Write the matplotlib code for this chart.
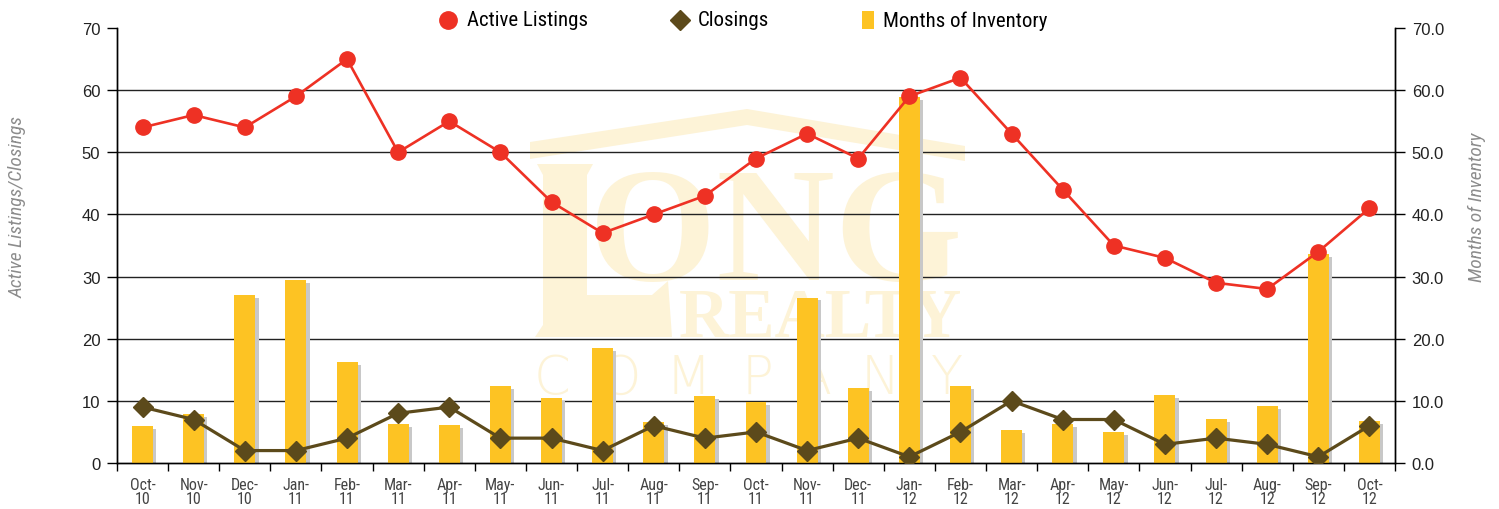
import matplotlib
matplotlib.use("Agg")
import matplotlib.pyplot as plt
from matplotlib import font_manager
from matplotlib.lines import Line2D
from matplotlib.patches import Polygon, Rectangle
import numpy as np

# ---- font: prefer a condensed sans ----
ttf = font_manager.fontManager.ttflist
names = {f.name for f in ttf}
FONT, STRETCH = "DejaVu Sans", "normal"
for cand in ["Liberation Sans Narrow", "Roboto Condensed", "Open Sans Condensed"]:
    if cand in names:
        FONT = cand
        break
else:
    if any(f.name == "DejaVu Sans" and str(f.stretch) in ("condensed", "semi-condensed")
           for f in ttf):
        STRETCH = "condensed"
plt.rcParams['font.family'] = [FONT, 'DejaVu Sans']
plt.rcParams['font.stretch'] = STRETCH
NUMFONT = ["Liberation Sans", "DejaVu Sans"]

# ---- data ----
months = ["Oct-\n10", "Nov-\n10", "Dec-\n10", "Jan-\n11", "Feb-\n11", "Mar-\n11", "Apr-\n11",
          "May-\n11", "Jun-\n11", "Jul-\n11", "Aug-\n11", "Sep-\n11", "Oct-\n11", "Nov-\n11",
          "Dec-\n11", "Jan-\n12", "Feb-\n12", "Mar-\n12", "Apr-\n12", "May-\n12", "Jun-\n12",
          "Jul-\n12", "Aug-\n12", "Sep-\n12", "Oct-\n12"]
active_listings = [54, 56, 54, 59, 65, 50, 55, 50, 42, 37, 40, 43, 49, 53, 49, 59, 62, 53, 44,
                   35, 33, 29, 28, 34, 41]
closings = [9, 7, 2, 2, 4, 8, 9, 4, 4, 2, 6, 4, 5, 2, 4, 1, 5, 10, 7, 7, 3, 4, 3, 1, 6]
months_inventory = [6.0, 7.9, 27.0, 29.4, 16.3, 6.3, 6.1, 12.4, 10.5, 18.5, 6.6, 10.8, 9.8,
                    26.6, 12.1, 58.9, 12.4, 5.3, 6.3, 5.0, 10.9, 7.1, 9.2, 33.6, 6.8]
series_names = ["Active Listings", "Closings", "Months of Inventory"]

RED, BROWN, YELLOW, SHADOW = "#EE3124", "#5C4A1B", "#FDC323", "#C8C8C8"
W, H = 1499, 510
x = np.arange(len(months))

fig = plt.figure(figsize=(W / 100, H / 100), dpi=100)
ax = fig.add_axes([117 / W, 1 - 464 / H, 1278 / W, 435 / H])
ax2 = ax.twinx()
ax2.set_zorder(ax.get_zorder() - 1)
ax.patch.set_visible(False)


def fp(px, py):
    return (px / W, 1 - py / H)


# ---- faint watermark logo ----
wm = "#FDF3D7"
roof = [(530, 143), (747, 110), (965, 147), (965, 162), (747, 126), (530, 160)]
ax2.add_patch(Polygon([fp(*p) for p in roof], closed=True, transform=fig.transFigure,
                      facecolor=wm, edgecolor="none", zorder=0, clip_on=False))
ell = [(537, 165), (593, 165), (587, 176), (587, 296), (652, 296), (668, 282), (672, 338),
       (535, 338), (543, 326), (543, 176)]
ax2.add_patch(Polygon([fp(*p) for p in ell], closed=True, transform=fig.transFigure,
                      facecolor=wm, edgecolor="none", zorder=0, clip_on=False))
ax2.text(*fp(776, 280), "ONG", transform=fig.transFigure, ha="center", va="baseline",
         fontsize=118, color=wm, family="Liberation Serif", fontweight="bold",
         fontstretch="normal", zorder=0)
ax2.text(*fp(820, 337), "REALTY", transform=fig.transFigure, ha="center", va="baseline",
         fontsize=50, color=wm, family="Liberation Serif", fontweight="bold",
         fontstretch="normal", zorder=0)
for letter, px in zip("COMPANY", [552, 620, 688, 757, 813, 880, 947]):
    ax2.text(*fp(px, 394), letter, transform=fig.transFigure, ha="center", va="baseline",
             fontsize=38, color=wm, family="DejaVu Sans", fontweight="light",
             fontstretch="normal", zorder=0)

# ---- bars (right axis) ----
bw = 0.41
mi = np.array(months_inventory)
ax2.bar(x + 0.065, np.maximum(mi - 0.45, 0), width=bw, color=SHADOW, zorder=2)
ax2.bar(x, mi, width=bw, color=YELLOW, zorder=3)
ax2.set_ylim(0, 70)
ax2.set_yticks(np.arange(0, 71, 10))
ax2.set_yticklabels([f"{v:.1f}" for v in range(0, 71, 10)])
for yv in range(10, 61, 10):
    ax2.axhline(yv, color="#222222", lw=1.0, zorder=1)

# ---- lines (left axis) ----
ax.plot(x, active_listings, color=RED, lw=1.9, marker="o", ms=11, zorder=5)
ax.plot(x, closings, color=BROWN, lw=2.3, marker="D", ms=10, zorder=5)
ax.set_ylim(0, 70)
ax.set_yticks(np.arange(0, 71, 10))
ax.set_xlim(-0.5, len(months) - 0.5)

# ---- x ticks ----
ax.set_xticks(x)
ax.set_xticklabels(months, fontsize=11.5, color="#444444", linespacing=0.95)
ax.tick_params(axis="x", length=0, pad=10)
ax.set_xticks(np.arange(-0.5, len(months) + 0.5, 1), minor=True)
ax.tick_params(axis="x", which="minor", length=6, width=1, direction="out")

for a in (ax, ax2):
    a.spines["top"].set_visible(False)
    a.tick_params(axis="y", labelsize=12, length=7, width=1, colors="black",
                  labelcolor="#222222", pad=5)
    for s in ("left", "right", "bottom"):
        a.spines[s].set_linewidth(1)
    for lab in a.get_yticklabels():
        lab.set_fontfamily(NUMFONT)
        lab.set_fontstretch("normal")
ax2.tick_params(axis="x", length=0)

ax.set_ylabel("Active Listings/Closings", fontsize=14, style="italic", color="#8C8C8C")
ax.yaxis.set_label_coords((27 - 117) / 1278, (464 - 207) / 435)
ax2.set_ylabel("Months of Inventory", fontsize=14, style="italic", color="#8C8C8C")
ax2.yaxis.set_label_coords((1468 - 117) / 1278, (464 - 207) / 435)

# ---- legend (placed item by item like the original) ----
LY = 21
fig.add_artist(Line2D([fp(448, LY)[0]], [fp(448, LY)[1]], transform=fig.transFigure,
                      marker="o", ms=12.5, color=RED, ls="none"))
fig.text(*fp(467, LY), series_names[0], ha="left", va="center", fontsize=15)
fig.add_artist(Line2D([fp(680, LY)[0]], [fp(680, LY)[1]], transform=fig.transFigure,
                      marker="D", ms=10, color=BROWN, ls="none"))
fig.text(*fp(698, LY), series_names[1], ha="left", va="center", fontsize=15)
fig.add_artist(Rectangle(fp(862, LY + 9), 12 / W, 18 / H, transform=fig.transFigure,
                         facecolor=YELLOW, edgecolor="none"))
fig.text(*fp(883, LY), series_names[2], ha="left", va="center", fontsize=15)

fig.savefig("out.png", dpi=100)
